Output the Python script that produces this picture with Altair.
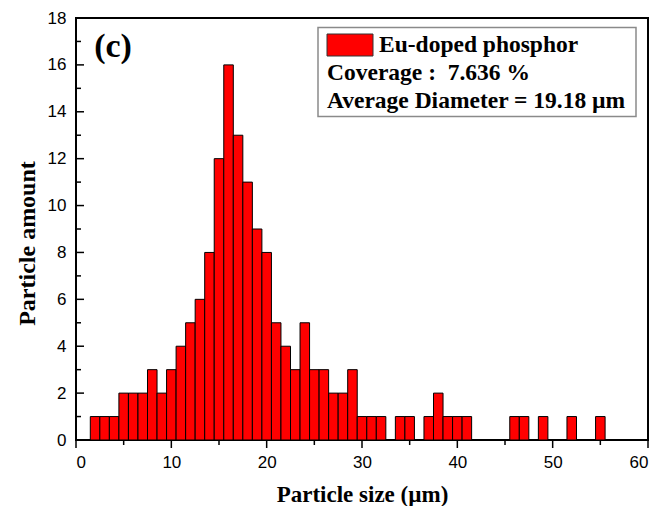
import altair as alt
import pandas as pd

# Histogram data: bin centres (µm, bin width 1) and particle counts
sizes = [2, 3, 4, 5, 6, 7, 8, 9, 10, 11, 12, 13, 14, 15, 16, 17, 18, 19, 20, 21,
         22, 23, 24, 25, 26, 27, 28, 29, 30, 31, 32, 34, 35, 37, 38, 39, 40, 41,
         46, 47, 49, 52, 55]
counts = [1, 1, 1, 2, 2, 2, 3, 2, 3, 4, 5, 6, 8, 12, 16, 13, 11, 9, 8, 5,
          4, 3, 5, 3, 3, 2, 2, 3, 1, 1, 1, 1, 1, 1, 2, 1, 1, 1,
          1, 1, 1, 1, 1]
bin_width = 1

x_labels = [0, 10, 20, 30, 40, 50, 60]
x_minor = [5, 15, 25, 35, 45, 55]
y_labels = [0, 2, 4, 6, 8, 10, 12, 14, 16, 18]
y_major_ticks = [2, 4, 6, 8, 10, 12, 14, 16]
y_minor_ticks = [1, 3, 5, 7, 9, 11, 13, 15, 17]

legend_label = "Eu-doped phosphor"
coverage_text = "Coverage :\u00a0 7.636 %"
diameter_text = "Average Diameter = 19.18 µm"
panel_label = "(c)"

W, H = 572, 422
SERIF = "Liberation Serif"
SANS = "Liberation Sans"

df = pd.DataFrame({"size": sizes, "count": counts})
df["lo"] = df["size"] - bin_width / 2
df["hi"] = df["size"] + bin_width / 2
df["zero"] = 0

xs = alt.Scale(domain=[0, 60], nice=False, zero=False)
ys = alt.Scale(domain=[0, 18], nice=False)

x_axis = alt.Axis(
    values=x_labels, title="Particle size (µm)", ticks=False, domain=False, grid=False,
    labelFont=SANS, labelFontSize=17, labelColor="black", labelPadding=14,
    titleFont=SERIF, titleFontWeight="bold", titleFontSize=23, titleColor="black",
    titleBaseline="alphabetic", titleY=61)
y_axis = alt.Axis(
    values=y_labels, title="Particle amount", ticks=False, domain=False, grid=False,
    labelFont=SANS, labelFontSize=17, labelColor="black", labelPadding=10,
    titleFont=SERIF, titleFontWeight="bold", titleFontSize=24, titleColor="black",
    titleAngle=270, titleAlign="center", titleBaseline="alphabetic",
    titleX=-42, titleY=225)

bars = alt.Chart(df).mark_rect(fill="#ff0000", stroke="black", strokeWidth=1).encode(
    x=alt.X("lo:Q", scale=xs, axis=x_axis),
    x2="hi:Q",
    y=alt.Y("count:Q", scale=ys, axis=y_axis),
    y2="zero:Q",
)

def tick_df(vals):
    return pd.DataFrame({"v": vals})

xt_major = alt.Chart(tick_df(x_labels)).mark_rule(color="black", strokeWidth=1.5).encode(
    x=alt.X("v:Q", scale=xs, axis=x_axis), y=alt.value(H), y2=alt.value(H + 8))
xt_minor = alt.Chart(tick_df(x_minor)).mark_rule(color="black", strokeWidth=1.5).encode(
    x=alt.X("v:Q", scale=xs, axis=x_axis), y=alt.value(H), y2=alt.value(H + 5))
yt_major = alt.Chart(tick_df(y_major_ticks)).mark_rule(color="black", strokeWidth=1.5).encode(
    y=alt.Y("v:Q", scale=ys, axis=y_axis), x=alt.value(0), x2=alt.value(8))
yt_minor = alt.Chart(tick_df(y_minor_ticks)).mark_rule(color="black", strokeWidth=1.5).encode(
    y=alt.Y("v:Q", scale=ys, axis=y_axis), x=alt.value(0), x2=alt.value(5))

box = alt.Chart().mark_rect(fill="white", stroke="#8a8a8a", strokeWidth=1.5).encode(
    x=alt.value(242), x2=alt.value(560), y=alt.value(9.5), y2=alt.value(98.5))
swatch = alt.Chart().mark_rect(fill="#ff0000", stroke="#333333", strokeWidth=1).encode(
    x=alt.value(251), x2=alt.value(297), y=alt.value(16), y2=alt.value(38))

def txt(s, x, y, size=23.5, align="left"):
    return alt.Chart().mark_text(
        align=align, baseline="alphabetic", font=SERIF, fontWeight="bold",
        fontSize=size, color="black").encode(
        x=alt.value(x), y=alt.value(y), text=alt.value(s))

t1 = txt(legend_label, 303, 34)
t2 = txt(coverage_text, 251, 62)
t3 = txt(diameter_text, 251, 90)
tc = txt(panel_label, 37, 39, size=34, align="center")

chart = alt.layer(bars, xt_major, xt_minor, yt_major, yt_minor, box, swatch, t1, t2, t3, tc).properties(
    width=W, height=H,
    autosize=alt.AutoSizeParams(type="none"),
    padding={"left": 68, "top": 10, "right": 14, "bottom": 66},
    background="white",
).configure_view(stroke="black", strokeWidth=2)

chart.save("out.html", embed_options={"renderer": "svg", "actions": False})
